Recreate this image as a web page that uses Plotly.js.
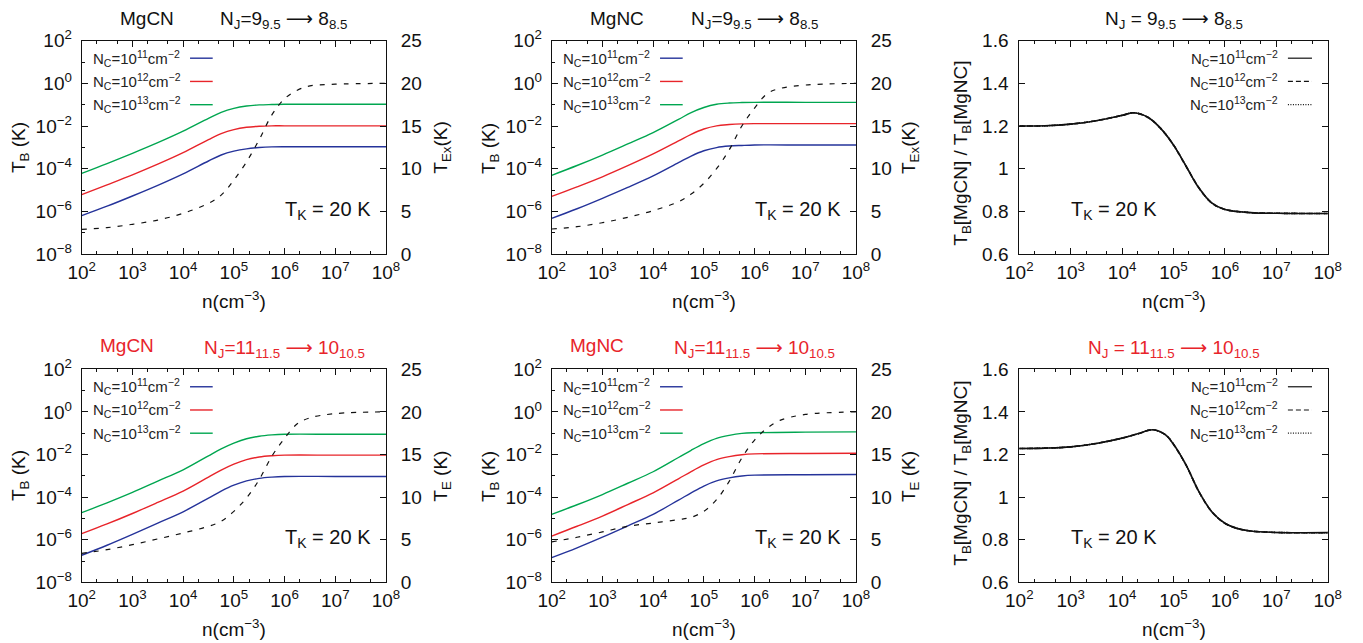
<!DOCTYPE html>
<html><head><meta charset="utf-8">
<script src="https://cdn.plot.ly/plotly-3.0.1.min.js"></script>
<style>html,body{margin:0;padding:0;background:#fff;} #chart{width:1363px;height:643px;}</style>
</head><body><div id="chart"></div>
<script>
// ---------- data ----------
const nTB = [1e2, 3.16e2, 1e3, 3.16e3, 1e4, 3.16e4, 5.62e4, 1e5, 1.78e5, 3.16e5, 5.62e5, 1e6, 1e7, 1e8];
const nEx = [1e2, 3.16e2, 1e3, 3.16e3, 1e4, 3.16e4, 5.62e4, 1e5, 1.78e5, 3.16e5, 5.62e5, 1e6, 1.78e6, 3.16e6, 1e7, 1e8];

// MgCN, N=9->8
const tbMgCN9_n11 = [6.31e-7, 1.74e-6, 5.25e-6, 1.66e-5, 5.75e-5, 2.29e-4, 4.37e-4, 6.61e-4, 8.51e-4, 9.77e-4, 1.05e-3, 1.07e-3, 1.07e-3, 1.07e-3];
const tbMgCN9_n12 = [6.03e-6, 1.74e-5, 5.13e-5, 1.62e-4, 5.62e-4, 2.29e-3, 4.37e-3, 6.76e-3, 8.71e-3, 9.77e-3, 1.02e-2, 1.02e-2, 1.02e-2, 1.02e-2];
const tbMgCN9_n13 = [6.03e-5, 1.74e-4, 5.25e-4, 1.66e-3, 5.75e-3, 2.29e-2, 4.37e-2, 6.76e-2, 8.71e-2, 9.77e-2, 0.102, 0.105, 0.105, 0.105];
const texMgCN9 = [2.89, 3.09, 3.48, 3.98, 4.77, 5.94, 6.9, 8.67, 10.8, 13.4, 16.3, 18.2, 19.2, 19.7, 19.9, 20.0];

// MgNC, N=9->8
const tbMgNC9_n11 = [4.68e-7, 1.32e-6, 4.07e-6, 1.32e-5, 4.57e-5, 1.91e-4, 3.89e-4, 6.92e-4, 9.77e-4, 1.15e-3, 1.23e-3, 1.29e-3, 1.29e-3, 1.29e-3];
const tbMgNC9_n12 = [5.01e-6, 1.41e-5, 4.17e-5, 1.38e-4, 4.90e-4, 2.00e-3, 4.07e-3, 7.24e-3, 1.02e-2, 1.17e-2, 1.26e-2, 1.29e-2, 1.29e-2, 1.29e-2];
const tbMgNC9_n13 = [4.90e-5, 1.41e-4, 4.37e-4, 1.45e-3, 4.90e-3, 2.04e-2, 4.27e-2, 7.41e-2, 0.105, 0.120, 0.126, 0.129, 0.129, 0.129];
const texMgNC9 = [2.93, 3.2, 3.67, 4.3, 5.08, 6.13, 7.03, 8.28, 10.0, 12.2, 15.0, 17.1, 18.8, 19.4, 19.8, 20.0];

// MgCN, N=11->10
const tbMgCN11_n11 = [1.86e-7, 5.50e-7, 1.78e-6, 6.03e-6, 2.04e-5, 8.91e-5, 1.91e-4, 3.63e-4, 5.75e-4, 7.59e-4, 8.71e-4, 9.33e-4, 9.33e-4, 9.33e-4];
const tbMgCN11_n12 = [1.91e-6, 5.50e-6, 1.70e-5, 5.62e-5, 1.91e-4, 8.71e-4, 1.86e-3, 3.55e-3, 5.75e-3, 7.59e-3, 8.71e-3, 9.33e-3, 9.33e-3, 9.33e-3];
const tbMgCN11_n13 = [1.86e-5, 5.37e-5, 1.66e-4, 5.62e-4, 1.91e-3, 8.71e-3, 1.82e-2, 3.39e-2, 5.50e-2, 7.24e-2, 8.32e-2, 8.91e-2, 8.91e-2, 8.91e-2];
const texMgCN11 = [3.4, 3.83, 4.42, 5.09, 5.79, 6.57, 7.16, 8.33, 9.9, 12.05, 14.8, 16.9, 18.6, 19.3, 19.8, 20.0];

// MgNC, N=11->10
const tbMgNC11_n11 = [1.45e-7, 4.17e-7, 1.32e-6, 4.47e-6, 1.55e-5, 7.24e-5, 1.58e-4, 3.31e-4, 5.75e-4, 7.94e-4, 9.77e-4, 1.07e-3, 1.12e-3, 1.15e-3];
const tbMgNC11_n12 = [1.48e-6, 4.27e-6, 1.29e-5, 4.47e-5, 1.58e-4, 7.24e-4, 1.58e-3, 3.24e-3, 5.75e-3, 7.94e-3, 9.77e-3, 1.07e-2, 1.12e-2, 1.15e-2];
const tbMgNC11_n13 = [1.55e-5, 4.37e-5, 1.32e-4, 4.47e-4, 1.55e-3, 7.24e-3, 1.58e-2, 3.24e-2, 5.75e-2, 7.94e-2, 9.77e-2, 0.105, 0.112, 0.115];
const texMgNC11 = [4.74, 5.29, 5.91, 6.57, 6.96, 7.36, 7.63, 8.33, 9.7, 11.85, 14.6, 16.7, 18.1, 19.0, 19.7, 20.0];

// Ratio T_B[MgCN]/T_B[MgNC]
const nR9 = [1e2, 3.16e2, 1e3, 3.16e3, 1e4, 1.7e4, 3.16e4, 5.62e4, 1e5, 1.78e5, 3.16e5, 5.62e5, 1e6, 3.16e6, 1e7, 1e8];
const ratio9_n11 = [1.200, 1.201, 1.209, 1.225, 1.250, 1.262, 1.241, 1.189, 1.111, 1.009, 0.908, 0.838, 0.809, 0.794, 0.791, 0.790];
const ratio9_n12 = [1.200, 1.201, 1.209, 1.225, 1.250, 1.262, 1.241, 1.189, 1.111, 1.009, 0.908, 0.838, 0.809, 0.794, 0.791, 0.790];
const ratio9_n13 = [1.200, 1.201, 1.209, 1.225, 1.250, 1.262, 1.241, 1.189, 1.111, 1.009, 0.908, 0.838, 0.809, 0.794, 0.791, 0.790];
const nR11 = [1e2, 3.16e2, 1e3, 3.16e3, 1e4, 2e4, 4e4, 7e4, 1e5, 1.78e5, 3.16e5, 5.62e5, 1e6, 1.78e6, 3.16e6, 1e7, 1e8];
const ratio11_n11 = [1.228, 1.230, 1.236, 1.252, 1.277, 1.297, 1.316, 1.292, 1.248, 1.148, 1.023, 0.930, 0.877, 0.852, 0.841, 0.834, 0.833];
const ratio11_n12 = [1.228, 1.230, 1.236, 1.252, 1.277, 1.297, 1.316, 1.292, 1.248, 1.148, 1.023, 0.930, 0.877, 0.852, 0.841, 0.834, 0.833];
const ratio11_n13 = [1.228, 1.230, 1.236, 1.252, 1.277, 1.297, 1.316, 1.292, 1.248, 1.148, 1.023, 0.930, 0.877, 0.852, 0.841, 0.834, 0.833];

// tick labels
const xTickVals = [1e2, 1e3, 1e4, 1e5, 1e6, 1e7, 1e8];
const xTickText = ['10<sup>2</sup>', '10<sup>3</sup>', '10<sup>4</sup>', '10<sup>5</sup>', '10<sup>6</sup>', '10<sup>7</sup>', '10<sup>8</sup>'];
const tbTickVals = [1e-8, 1e-6, 1e-4, 1e-2, 1e0, 1e2];
const tbTickText = ['10<sup>−8</sup>', '10<sup>−6</sup>', '10<sup>−4</sup>', '10<sup>−2</sup>', '10<sup>0</sup>', '10<sup>2</sup>'];
const texTickVals = [0, 5, 10, 15, 20, 25];
const texTickText = ['0', '5', '10', '15', '20', '25'];
const ratioTickVals = [0.6, 0.8, 1.0, 1.2, 1.4, 1.6];
const ratioTickText = ['0.6', '0.8', '1', '1.2', '1.4', '1.6'];

const legendLabels = ['N<sub>C</sub>=10<sup>11</sup>cm<sup>−2</sup>', 'N<sub>C</sub>=10<sup>12</sup>cm<sup>−2</sup>', 'N<sub>C</sub>=10<sup>13</sup>cm<sup>−2</sup>'];

// ---------- styling / layout ----------
const FONT = '"Liberation Sans", Arial, sans-serif';
const INK = '#111111';
const RED = '#e8242a';
const COLORS = ['#25339a', '#e8242a', '#00a650'];
const W = 1363, H = 643;
const colPx = [[81.7, 386], [551.7, 856], [1019.3, 1327.7]];
const rowPx = [[40.7, 254], [369.3, 582.3]];
const xd = c => [colPx[c][0] / W, colPx[c][1] / W];
const yd = r => [1 - rowPx[r][1] / H, 1 - rowPx[r][0] / H];

const layout = {
  width: W, height: H,
  margin: {l: 0, r: 0, t: 0, b: 0},
  paper_bgcolor: '#fff', plot_bgcolor: '#fff',
  showlegend: false,
  font: {family: FONT, color: INK, size: 18},
  annotations: [], shapes: []
};

function xAxis(c, anchor) {
  return {
    type: 'log', domain: xd(c), anchor: anchor, range: [2, 8],
    tickmode: 'array', tickvals: xTickVals, ticktext: xTickText,
    ticks: 'inside', ticklen: 6, tickcolor: INK, tickwidth: 1,
    minor: {ticks: 'inside', ticklen: 3, dtick: 'D2', tickcolor: INK, tickwidth: 1, showgrid: false},
    showline: true, linecolor: INK, linewidth: 1, mirror: 'ticks',
    showgrid: false, zeroline: false, tickfont: {size: 19, color: INK, family: FONT},
    ticklabelstandoff: 1
  };
}
function yLogAxis(r, anchor) {
  return {
    type: 'log', domain: yd(r), anchor: anchor, range: [-8, 2],
    tickmode: 'array', tickvals: tbTickVals, ticktext: tbTickText,
    ticks: 'inside', ticklen: 6, tickcolor: INK,
    minor: {ticks: 'inside', ticklen: 3, dtick: 1, tickcolor: INK, showgrid: false},
    showline: true, linecolor: INK, linewidth: 1, mirror: true,
    showgrid: false, zeroline: false, tickfont: {size: 19, color: INK, family: FONT},
    ticklabelstandoff: 5
  };
}
function yTexAxis(overlay, anchor) {
  return {
    overlaying: overlay, side: 'right', anchor: anchor, range: [0, 25],
    tickmode: 'array', tickvals: texTickVals, ticktext: texTickText,
    ticks: 'inside', ticklen: 6, tickcolor: INK,
    showline: true, linecolor: INK, linewidth: 1,
    showgrid: false, zeroline: false, tickfont: {size: 19, color: INK, family: FONT},
    ticklabelstandoff: 10
  };
}
function yRatioAxis(r, anchor) {
  return {
    domain: yd(r), anchor: anchor, range: [0.6, 1.6],
    tickmode: 'array', tickvals: ratioTickVals, ticktext: ratioTickText,
    ticks: 'inside', ticklen: 6, tickcolor: INK,
    showline: true, linecolor: INK, linewidth: 1, mirror: 'ticks',
    showgrid: false, zeroline: false, tickfont: {size: 19, color: INK, family: FONT},
    ticklabelstandoff: 6
  };
}

// axes
layout.xaxis = xAxis(0, 'y');   layout.yaxis = yLogAxis(0, 'x');   layout.yaxis2 = yTexAxis('y', 'x');
layout.xaxis2 = xAxis(1, 'y3'); layout.yaxis3 = yLogAxis(0, 'x2'); layout.yaxis4 = yTexAxis('y3', 'x2');
layout.xaxis3 = xAxis(2, 'y5'); layout.yaxis5 = yRatioAxis(0, 'x3');
layout.xaxis4 = xAxis(0, 'y6'); layout.yaxis6 = yLogAxis(1, 'x4'); layout.yaxis7 = yTexAxis('y6', 'x4');
layout.xaxis5 = xAxis(1, 'y8'); layout.yaxis8 = yLogAxis(1, 'x5'); layout.yaxis9 = yTexAxis('y8', 'x5');
layout.xaxis6 = xAxis(2, 'y10'); layout.yaxis10 = yRatioAxis(1, 'x6');

// traces
const traces = [];
function tbPanel(xr, yl, yr, series, tex) {
  series.forEach((s, i) => traces.push({
    x: nTB, y: s, xaxis: xr, yaxis: yl, type: 'scatter', mode: 'lines',
    line: {color: COLORS[i], width: 1.4, shape: 'spline', smoothing: 1}, name: legendLabels[i]
  }));
  traces.push({
    x: nEx, y: tex, xaxis: xr, yaxis: yr, type: 'scatter', mode: 'lines',
    line: {color: INK, width: 1.2, dash: '5px,7px', shape: 'spline', smoothing: 1}, name: 'T_Ex'
  });
}
function ratioPanel(xr, yr, nx, series) {
  const dashes = ['solid', '5px,3px', '1px,1.5px'];
  series.forEach((s, i) => traces.push({
    x: nx, y: s, xaxis: xr, yaxis: yr, type: 'scatter', mode: 'lines',
    line: {color: INK, width: 1.6, dash: dashes[i], shape: 'spline', smoothing: 1}, name: legendLabels[i]
  }));
}
tbPanel('x', 'y', 'y2', [tbMgCN9_n11, tbMgCN9_n12, tbMgCN9_n13], texMgCN9);
tbPanel('x2', 'y3', 'y4', [tbMgNC9_n11, tbMgNC9_n12, tbMgNC9_n13], texMgNC9);
ratioPanel('x3', 'y5', nR9, [ratio9_n11, ratio9_n12, ratio9_n13]);
tbPanel('x4', 'y6', 'y7', [tbMgCN11_n11, tbMgCN11_n12, tbMgCN11_n13], texMgCN11);
tbPanel('x5', 'y8', 'y9', [tbMgNC11_n11, tbMgNC11_n12, tbMgNC11_n13], texMgNC11);
ratioPanel('x6', 'y10', nR11, [ratio11_n11, ratio11_n12, ratio11_n13]);

// annotations helpers
const A = layout.annotations, S = layout.shapes;
function txtPx(text, px, py, opts) {
  A.push(Object.assign({text: text, x: px / W, y: 1 - py / H, xref: 'paper', yref: 'paper',
    showarrow: false, xanchor: 'center', yanchor: 'middle',
    font: {family: FONT, size: 19, color: INK}}, opts || {}));
}
// titles
const ARROW = '<span style="font-family:DejaVu Sans">⟶</span>';
const t9 = 'N<sub>J</sub>=9<sub>9.5</sub> ' + ARROW + ' 8<sub>8.5</sub>';
const t11 = 'N<sub>J</sub>=11<sub>11.5</sub> ' + ARROW + ' 10<sub>10.5</sub>';
txtPx('MgCN', 146.7, 18); txtPx(t9, 283.5, 20);
txtPx('MgNC', 616.7, 18); txtPx(t9, 754.5, 20);
txtPx('N<sub>J</sub> = 9<sub>9.5</sub> ' + ARROW + ' 8<sub>8.5</sub>', 1173.5, 20);
const redFont = {family: FONT, size: 19, color: RED};
txtPx('MgCN', 126.7, 346, {font: redFont}); txtPx(t11, 284, 348, {font: redFont});
txtPx('MgNC', 596.7, 346, {font: redFont}); txtPx(t11, 754, 348, {font: redFont});
txtPx('N<sub>J</sub> = 11<sub>11.5</sub> ' + ARROW + ' 10<sub>10.5</sub>', 1173.5, 348, {font: redFont});

// axis titles
const xTitle = 'n(cm<sup>−3</sup>)';
[[233.8, 300], [703.8, 300], [1173.5, 300], [233.8, 628], [703.8, 628], [1173.5, 628]].forEach(p => txtPx(xTitle, p[0], p[1]));
const tbTitle = 'T<sub>B</sub> (K)';
txtPx(tbTitle, 20, 148, {textangle: -90}); txtPx(tbTitle, 490, 148, {textangle: -90});
txtPx(tbTitle, 20, 476, {textangle: -90}); txtPx(tbTitle, 490, 476, {textangle: -90});
txtPx('T<sub>Ex</sub>(K)', 441.7, 148, {textangle: -90}); txtPx('T<sub>Ex</sub>(K)', 910, 148, {textangle: -90});
txtPx('T<sub>E</sub> (K)', 441.7, 476, {textangle: -90}); txtPx('T<sub>E</sub> (K)', 910, 476, {textangle: -90});
const rTitle = 'T<sub>B</sub>[MgCN] / T<sub>B</sub>[MgNC]';
txtPx(rTitle, 961.7, 153, {textangle: -90}); txtPx(rTitle, 961.7, 473, {textangle: -90});

// T_K labels and legends (positions relative to each subplot)
const tk = 'T<sub>K</sub> = 20 K';
const legY = [0.918, 0.809, 0.700];
function tbDecor(xr, yr) {
  A.push({text: tk, x: 0.808, y: 0.206, xref: xr + ' domain', yref: yr + ' domain', showarrow: false,
    xanchor: 'center', yanchor: 'middle', font: {family: FONT, size: 20, color: INK}});
  legendLabels.forEach((lab, i) => {
    A.push({text: lab, x: 0.03, y: legY[i], xref: xr + ' domain', yref: yr + ' domain', showarrow: false,
      xanchor: 'left', yanchor: 'middle', font: {family: FONT, size: 15, color: '#222'}});
    S.push({type: 'line', x0: 0.356, x1: 0.4305, y0: legY[i], y1: legY[i], xref: xr + ' domain', yref: yr + ' domain',
      line: {color: COLORS[i], width: 1.4}});
  });
}
function ratioDecor(xr, yr) {
  A.push({text: tk, x: 0.308, y: 0.205, xref: xr + ' domain', yref: yr + ' domain', showarrow: false,
    xanchor: 'center', yanchor: 'middle', font: {family: FONT, size: 20, color: INK}});
  const dashes = ['solid', '5px,3px', '1px,1.5px'];
  legendLabels.forEach((lab, i) => {
    A.push({text: lab, x: 0.845, y: legY[i], xref: xr + ' domain', yref: yr + ' domain', showarrow: false,
      xanchor: 'right', yanchor: 'middle', font: {family: FONT, size: 15, color: '#222'}});
    S.push({type: 'line', x0: 0.871, x1: 0.949, y0: legY[i], y1: legY[i], xref: xr + ' domain', yref: yr + ' domain',
      line: {color: INK, width: 1.2, dash: dashes[i]}});
  });
}
tbDecor('x', 'y'); tbDecor('x2', 'y3'); ratioDecor('x3', 'y5');
tbDecor('x4', 'y6'); tbDecor('x5', 'y8'); ratioDecor('x6', 'y10');

Plotly.newPlot('chart', traces, layout, {staticPlot: true, displayModeBar: false});
</script></body></html>
